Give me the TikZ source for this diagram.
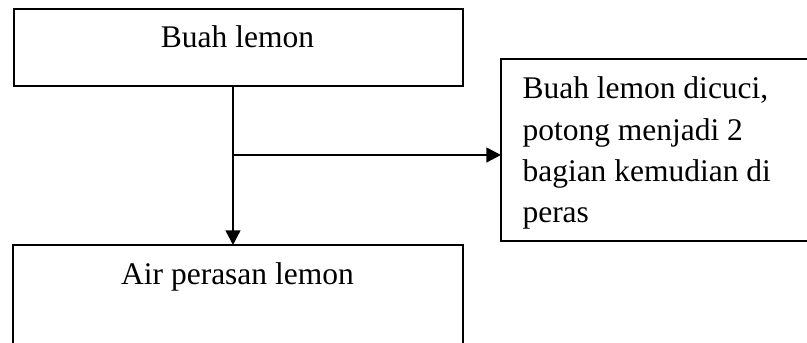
\documentclass[tikz,border=0pt]{standalone}
\usepackage{fontspec}
\setmainfont{Liberation Serif}
\usetikzlibrary{arrows.meta}
\begin{document}
\begin{tikzpicture}[x=0.381pt,y=-0.381pt,
  box/.style={draw,line width=0.95pt,rectangle,inner sep=0pt,anchor=north west},
  openbox/.style={line width=0.95pt},
  txt/.style={font=\fontsize{12pt}{15.75pt}\selectfont,inner sep=0pt},
  arr/.style={line width=0.95pt,-{Triangle[length=5.6pt,width=5.6pt]}}]
\useasboundingbox (0,0) rectangle (807,343);
\node[box,minimum width=449*0.381pt,minimum height=77*0.381pt] (top) at (13,8) {};
\node[inner sep=0pt,anchor=north west,minimum width=449*0.381pt,minimum height=98*0.381pt] (bot) at (13,245) {};
\draw[openbox] (bot.south west) -- (bot.north west) -- (bot.north east) -- (bot.south east);
\node[inner sep=0pt,anchor=north west,minimum width=306*0.381pt,minimum height=181*0.381pt] (side) at (501,59) {};
\draw[openbox] (side.north east) -- (side.north west) -- (side.south west) -- (side.south east);
\node[txt,anchor=base] (t1) at (237.5,48) {Buah lemon};
\node[txt,anchor=base] (t2) at (237.5,285) {Air perasan lemon};
\node[txt,anchor=base west] (s1) at (522,99) {Buah lemon dicuci,};
\node[txt,anchor=base west] (s2) at (522,141) {potong menjadi 2};
\node[txt,anchor=base west] (s3) at (522,182) {bagian kemudian di};
\node[txt,anchor=base west] (s4) at (522,223) {peras};
\coordinate (a) at (233,85);
\coordinate (j) at (233,155);
\draw[arr] (a) -- (a |- bot.north);
\draw[arr] (j) -- (j -| side.west);
\end{tikzpicture}
\end{document}
